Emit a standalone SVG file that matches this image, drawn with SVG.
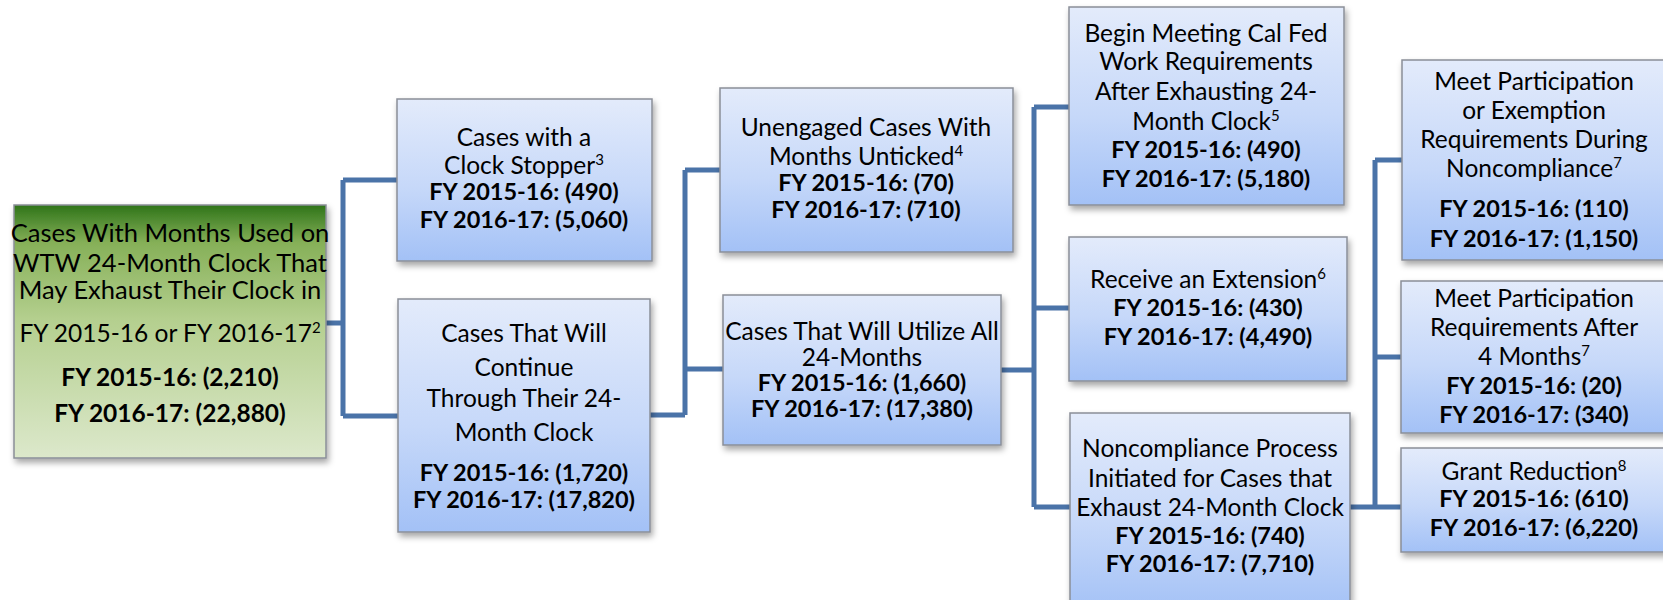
<svg xmlns="http://www.w3.org/2000/svg" width="1663" height="600" viewBox="0 0 1663 600">
<style>
.box{stroke:#8a8f98;stroke-width:1.5;filter:url(#sh)}
.blue{fill:url(#gb)}
.green{fill:url(#gg)}
text{font-family:Lato,"Noto Sans","Liberation Sans",sans-serif;font-size:24.5px;fill:#000;text-anchor:middle}
.b{font-weight:bold;font-size:23.5px}
.r{font-size:25.5px}
.rb{font-weight:bold;font-size:24.5px}
.sup{font-size:15px}
.conn{fill:none;stroke:#4a73a8;stroke-width:5;stroke-linejoin:miter}
</style>
<defs>
<linearGradient id="gb" x1="0" y1="0" x2="0" y2="1">
<stop offset="0" stop-color="#e3ebfb"/>
<stop offset="0.55" stop-color="#c6d8f9"/>
<stop offset="1" stop-color="#a3c1f6"/>
</linearGradient>
<linearGradient id="gg" x1="0" y1="0" x2="0" y2="1">
<stop offset="0" stop-color="#2f7419"/>
<stop offset="0.15" stop-color="#86b058"/>
<stop offset="0.45" stop-color="#b4cf8e"/>
<stop offset="1" stop-color="#dce8cb"/>
</linearGradient>
<filter id="sh" x="-10%" y="-10%" width="125%" height="130%">
<feDropShadow dx="2" dy="4" stdDeviation="3" flood-color="#000" flood-opacity="0.35"/>
</filter>
</defs>

<g id="connectors">
<path class="conn" d="M326 323 H343 M343 180 V416 M343 180 H397 M343 416 H398"/>
<path class="conn" d="M650 415 H685 M685 170 V415 M685 170 H720 M685 369 H723"/>
<path class="conn" d="M1001 370 H1034 M1034 107 V507 M1034 107 H1069 M1034 308 H1069 M1034 507 H1070"/>
<path class="conn" d="M1350 507 H1375 M1375 160 V507 M1375 160 H1402 M1375 357 H1401 M1375 507 H1401"/>
</g>

<g id="root">
<rect class="box green" x="14" y="205" width="312" height="253"/>
<text x="170" y="242" class="r">Cases With Months Used on</text>
<text x="170" y="272" class="r">WTW 24-Month Clock That</text>
<text x="170" y="299" class="r">May Exhaust Their Clock in</text>
<text x="170" y="342">FY 2015-16 or FY 2016-17<tspan class="sup" dy="-9">2</tspan></text>
<text x="170" y="386" class="rb">FY 2015-16: (2,210)</text>
<text x="170" y="422" class="rb">FY 2016-17: (22,880)</text>
</g>

<g id="clock-stopper">
<rect class="box blue" x="397" y="99" width="255" height="162"/>
<text x="524" y="146">Cases with a</text>
<text x="524" y="174">Clock Stopper<tspan class="sup" dy="-9">3</tspan></text>
<text x="524" y="200" class="b">FY 2015-16: (490)</text>
<text x="524" y="228" class="b">FY 2016-17: (5,060)</text>
</g>

<g id="continue">
<rect class="box blue" x="398" y="299" width="252" height="233"/>
<text x="524" y="342">Cases That Will</text>
<text x="524" y="376">Continue</text>
<text x="524" y="407">Through Their 24-</text>
<text x="524" y="441">Month Clock</text>
<text x="524" y="481" class="b">FY 2015-16: (1,720)</text>
<text x="524" y="508" class="b">FY 2016-17: (17,820)</text>
</g>

<g id="unengaged">
<rect class="box blue" x="720" y="88" width="293" height="164"/>
<text x="866" y="136">Unengaged Cases With</text>
<text x="866" y="165">Months Unticked<tspan class="sup" dy="-9">4</tspan></text>
<text x="866" y="191" class="b">FY 2015-16: (70)</text>
<text x="866" y="218" class="b">FY 2016-17: (710)</text>
</g>

<g id="utilize">
<rect class="box blue" x="723" y="295" width="278" height="150"/>
<text x="862" y="340">Cases That Will Utilize All</text>
<text x="862" y="366">24-Months</text>
<text x="862" y="391" class="b">FY 2015-16: (1,660)</text>
<text x="862" y="417" class="b">FY 2016-17: (17,380)</text>
</g>

<g id="cal-fed">
<rect class="box blue" x="1069" y="7" width="275" height="198"/>
<text x="1206" y="42">Begin Meeting Cal Fed</text>
<text x="1206" y="70">Work Requirements</text>
<text x="1206" y="100">After Exhausting 24-</text>
<text x="1206" y="130">Month Clock<tspan class="sup" dy="-9">5</tspan></text>
<text x="1206" y="158" class="b">FY 2015-16: (490)</text>
<text x="1206" y="187" class="b">FY 2016-17: (5,180)</text>
</g>

<g id="extension">
<rect class="box blue" x="1069" y="237" width="278" height="144"/>
<text x="1208" y="288">Receive an Extension<tspan class="sup" dy="-9">6</tspan></text>
<text x="1208" y="316" class="b">FY 2015-16: (430)</text>
<text x="1208" y="345" class="b">FY 2016-17: (4,490)</text>
</g>

<g id="noncompliance">
<rect class="box blue" x="1070" y="413" width="280" height="200"/>
<text x="1210" y="457">Noncompliance Process</text>
<text x="1210" y="487">Initiated for Cases that</text>
<text x="1210" y="516">Exhaust 24-Month Clock</text>
<text x="1210" y="544" class="b">FY 2015-16: (740)</text>
<text x="1210" y="572" class="b">FY 2016-17: (7,710)</text>
</g>

<g id="exemption">
<rect class="box blue" x="1402" y="60" width="266" height="200"/>
<text x="1534" y="90">Meet Participation</text>
<text x="1534" y="119">or Exemption</text>
<text x="1534" y="148">Requirements During</text>
<text x="1534" y="177">Noncompliance<tspan class="sup" dy="-9">7</tspan></text>
<text x="1534" y="217" class="b">FY 2015-16: (110)</text>
<text x="1534" y="247" class="b">FY 2016-17: (1,150)</text>
</g>

<g id="after-4-months">
<rect class="box blue" x="1401" y="281" width="267" height="152"/>
<text x="1534" y="307">Meet Participation</text>
<text x="1534" y="336">Requirements After</text>
<text x="1534" y="365">4 Months<tspan class="sup" dy="-9">7</tspan></text>
<text x="1534" y="394" class="b">FY 2015-16: (20)</text>
<text x="1534" y="423" class="b">FY 2016-17: (340)</text>
</g>

<g id="grant-reduction">
<rect class="box blue" x="1401" y="448" width="267" height="104"/>
<text x="1534" y="480">Grant Reduction<tspan class="sup" dy="-9">8</tspan></text>
<text x="1534" y="507" class="b">FY 2015-16: (610)</text>
<text x="1534" y="536" class="b">FY 2016-17: (6,220)</text>
</g>
</svg>
